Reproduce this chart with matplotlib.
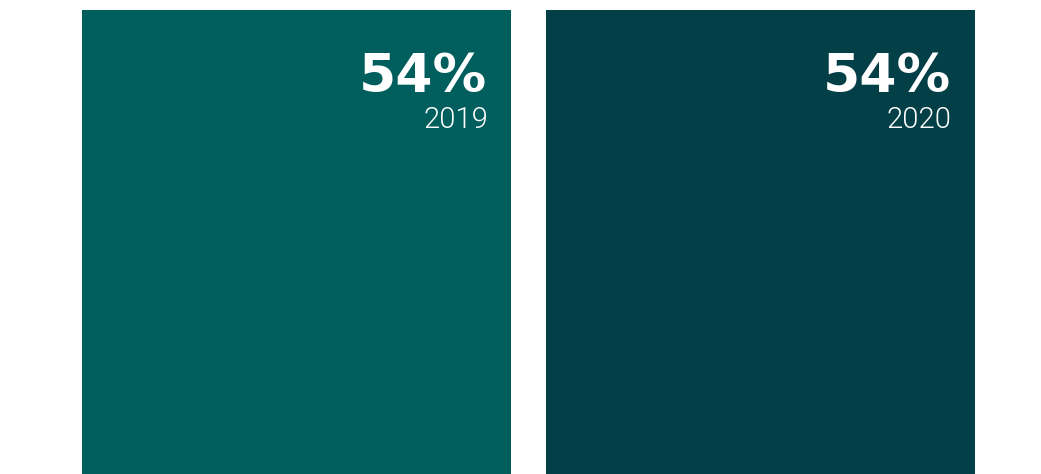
import matplotlib
matplotlib.use("Agg")
import matplotlib.pyplot as plt

years = ["2019", "2020"]
values = [54, 54]
colors = ["#005E5D", "#033F47"]

W, H = 1041, 474
fig = plt.figure(figsize=(W / 100, H / 100), dpi=100)
ax = fig.add_axes([0, 0, 1, 1])

x = [0, 1]
width = 429 / 464
ax.bar(x, values, width=width, color=colors, linewidth=0)
ax.set_xlim(-296.5 / 464, 1 + (W - 760.5) / 464)
ax.set_ylim(0, 54 * H / 464)
ax.axis("off")

px = 72 / 100
for xi, v, yr in zip(x, values, years):
    right = xi + width / 2
    ax.annotate(f"{v}%", xy=(right, v), xytext=(-24 * px, -82 * px),
                textcoords="offset points", ha="right", va="baseline",
                color="white", fontsize=38.5, fontweight="bold",
                family=["DejaVu Sans"])
    ax.annotate(yr, xy=(right, v), xytext=(-23 * px, -118 * px),
                textcoords="offset points", ha="right", va="baseline",
                color="white", fontsize=21, fontweight=300,
                family=["Roboto", "DejaVu Sans"])

fig.savefig("out.png", dpi=100)
